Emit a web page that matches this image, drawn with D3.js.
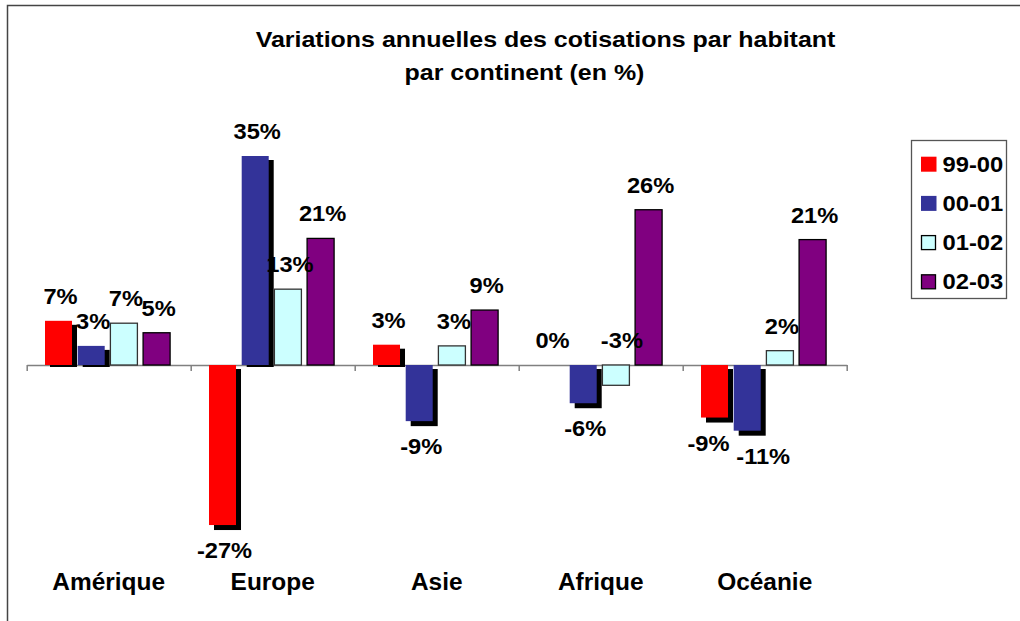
<!DOCTYPE html>
<html>
  <head>
    <meta charset="utf-8">
    <title>Variations annuelles des cotisations</title>
    <script src="https://d3js.org/d3.v7.min.js"></script>
    <style>
      body { margin: 0; background: #fff; }
      text { font-family: Arial, "Liberation Sans", sans-serif; font-weight: bold; fill: #000; }
    </style>
  </head>
  <body>
    <script>

      // data (in %)
      var categories = ["Amérique", "Europe", "Asie", "Afrique", "Océanie"];
      var seriesNames = ["99-00", "00-01", "01-02", "02-03"];
      var v9900 = [7.4, -26.8, 3.4, 0, -8.8];
      var v0001 = [3.2, 35, -9.4, -6.4, -11];
      var v0102 = [7.0, 12.7, 3.2, -3.4, 2.4];
      var v0203 = [5.4, 21.2, 9.2, 26, 21];
      var colors = ["#ff0000", "#333399", "#ccffff", "#800080"];
      var outlined = [false, false, true, true];   // red/blue have a shadow, the others a border

      var seriesValues = [v9900, v0001, v0102, v0203];

      // a few labels were moved by hand in the original to avoid overlaps
      var labelNudge = {
        "2-3": { dx: 6, above: true },
        "0-4": { dx: -6 },
        "1-4": { dx: 16 }
      };

      var svg = d3.select("body").append("svg")
                  .attr("width", 1020)
                  .attr("height", 621);

      // chart frame (only left and top edges visible)
      svg.append("path")
         .attr("d", "M7.5,621V5.5H1020")
         .attr("fill", "none")
         .attr("stroke", "#444")
         .attr("stroke-width", 1.5);

      // text is a little wider than plain Arial in the picture
      function stretchText(sel, x, y, sx) {
        sel.attr("transform", "translate(" + x + "," + y + ") scale(" + sx + ",1)");
        return sel;
      }

      // title
      stretchText(svg.append("text").attr("text-anchor", "middle").style("font-size", "22px")
          .text("Variations annuelles des cotisations par habitant"), 545.5, 47, 1.135);
      stretchText(svg.append("text").attr("text-anchor", "middle").style("font-size", "22px")
          .text("par continent (en %)"), 524.5, 80, 1.135);

      var x = d3.scaleBand().domain(categories).range([26.7, 846.7]);
      var xs = d3.scaleBand().domain(seriesNames).range([18.3, 143.4]).paddingInner(0.174);
      var y = d3.scaleLinear().domain([0, 35]).range([365, 156]);

      // axis with ticks at category boundaries
      var xb = d3.scaleLinear().domain([0, 5]).range(x.range());
      var axis = svg.append("g")
                    .attr("transform", "translate(0," + y(0) + ")")
                    .call(d3.axisBottom(xb).ticks(5).tickFormat("").tickSizeInner(6).tickSizeOuter(0));
      axis.selectAll("path, line").attr("stroke", "#808080").attr("stroke-width", 1.5);

      var points = [];
      seriesValues.forEach(function(vals, s) {
        vals.forEach(function(v, c) {
          points.push({ s: s, c: c, v: v });
        });
      });

      function barX(d) { return x(categories[d.c]) + xs(seriesNames[d.s]); }

      // shadows
      svg.selectAll("rect.shadow")
         .data(points.filter(function(d) { return !outlined[d.s] && d.v !== 0; }))
         .enter()
         .append("rect")
         .attr("class", "shadow")
         .attr("fill", "#000")
         .attr("x", function(d) { return barX(d) + 5; })
         .attr("y", function(d) { return Math.min(y(d.v), y(0)) + 4; })
         .attr("width", xs.bandwidth())
         .attr("height", function(d) {
           if (d.v > 0) return y(0) + 2 - (y(d.v) + 4);
           return y(d.v) - y(0) + 1;
         });

      // bars
      svg.selectAll("rect.bar")
         .data(points.filter(function(d) { return d.v !== 0; }))
         .enter()
         .append("rect")
         .attr("class", "bar")
         .attr("fill", function(d) { return colors[d.s]; })
         .attr("stroke", function(d) { return outlined[d.s] ? (d.s === 2 ? "#333" : "#000") : "none"; })
         .attr("stroke-width", 1.3)
         .attr("x", function(d) { return barX(d); })
         .attr("y", function(d) { return Math.min(y(d.v), y(0)); })
         .attr("width", xs.bandwidth())
         .attr("height", function(d) { return Math.abs(y(d.v) - y(0)); });

      // value labels
      svg.selectAll("text.val")
         .data(points)
         .enter()
         .append("text")
         .attr("class", "val")
         .attr("text-anchor", "middle")
         .style("font-size", "21.5px")
         .text(function(d) { return Math.round(d.v) + "%"; })
         .each(function(d) {
           var n = labelNudge[d.s + "-" + d.c] || {};
           var cx = barX(d) + xs.bandwidth() / 2 + (n.dx !== undefined ? n.dx : 2);
           var ty = (d.v >= 0 || n.above) ? Math.min(y(d.v), y(0)) - 17 : y(d.v) + 33;
           stretchText(d3.select(this), cx, ty, 1.1);
         });

      // category labels
      svg.selectAll("text.cat")
         .data(categories)
         .enter()
         .append("text")
         .attr("class", "cat")
         .attr("text-anchor", "middle")
         .style("font-size", "23.5px")
         .text(function(d) { return d; })
         .each(function(d) {
           stretchText(d3.select(this), x(d) + x.bandwidth() / 2, 590, 1.04);
         });

      // legend
      var legend = svg.append("g");
      legend.append("rect")
            .attr("x", 911.5).attr("y", 140.5)
            .attr("width", 95).attr("height", 158)
            .attr("fill", "#fff")
            .attr("stroke", "#555")
            .attr("stroke-width", 1.3);

      var items = legend.selectAll("g.item")
                        .data(seriesNames)
                        .enter()
                        .append("g")
                        .attr("class", "item")
                        .attr("transform", function(d, i) { return "translate(0," + (i * 39.2) + ")"; });
      items.append("rect")
           .attr("x", function(d, i) { return outlined[i] ? 921.5 : 921; })
           .attr("y", function(d, i) { return outlined[i] ? 157.2 : 156.7; })
           .attr("width", function(d, i) { return outlined[i] ? 14 : 15.5; })
           .attr("height", function(d, i) { return outlined[i] ? 14 : 15; })
           .attr("fill", function(d, i) { return colors[i]; })
           .attr("stroke", function(d, i) { return outlined[i] ? "#000" : "none"; })
           .attr("stroke-width", 1.3);
      items.append("text")
           .style("font-size", "22px")
           .text(function(d) { return d; })
           .each(function() { stretchText(d3.select(this), 942.5, 171.5, 1.08); });

    </script>
  </body>
</html>
